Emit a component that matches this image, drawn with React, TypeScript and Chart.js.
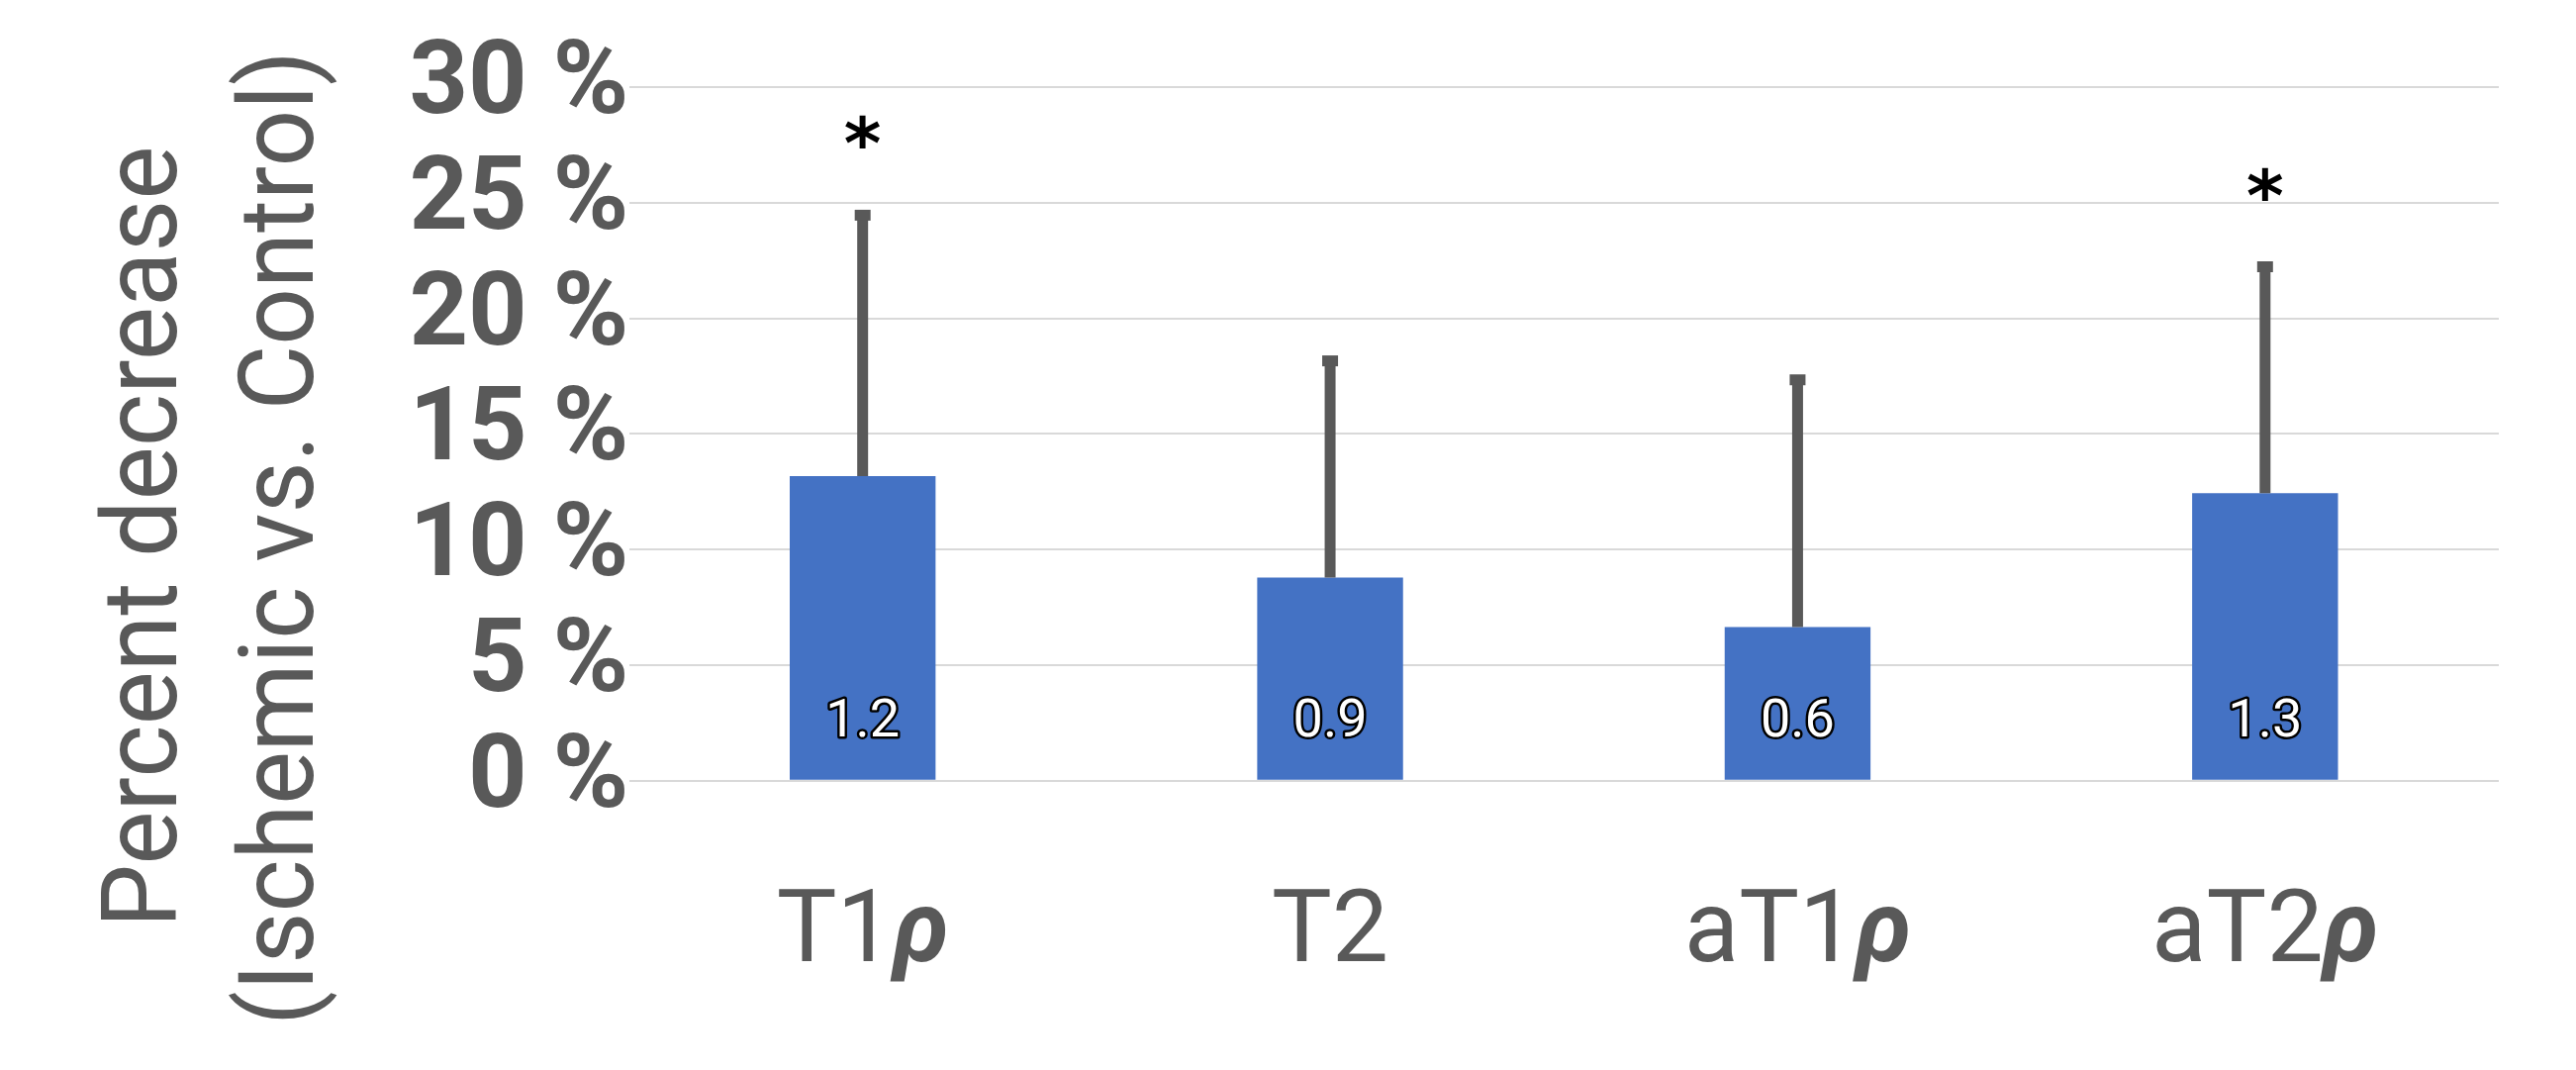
import React, { useEffect, useRef } from 'react';
import { Chart, registerables } from 'chart.js';

Chart.register(...registerables);

// ---- data ----
const categories = ['T1ρ', 'T2', 'aT1ρ', 'aT2ρ'];
const meanDecrease = [13.18, 8.79, 6.65, 12.44];
const sdDecrease = [11.28, 9.37, 10.69, 9.79];
const barLabels = ['1.2', '0.9', '0.6', '1.3'];
const significant = [true, false, false, true];
const yTitleLines = ['Percent decrease', '(Ischemic vs. Control)'];
const yMin = 0;
const yMax = 30;
const yStep = 5;

const GREY = '#595959';
const FONT = 'Roboto, "Open Sans", "DejaVu Sans", sans-serif';

const overlayPlugin = {
  id: 'overlay',
  afterDatasetsDraw(chart: any) {
    const ctx = chart.ctx;
    const y = chart.scales.y;
    const x = chart.scales.x;
    const meta = chart.getDatasetMeta(0);
    ctx.save();
    meta.data.forEach((bar: any, i: number) => {
      const cx = bar.x;
      const top = bar.y;
      const base = bar.base;
      const errPix = y.getPixelForValue(meanDecrease[i] + sdDecrease[i]);
      // error bar
      ctx.strokeStyle = GREY;
      ctx.lineWidth = 11;
      ctx.lineCap = 'butt';
      ctx.beginPath();
      ctx.moveTo(cx, top);
      ctx.lineTo(cx, errPix);
      ctx.stroke();
      ctx.beginPath();
      ctx.moveTo(cx - 8, errPix);
      ctx.lineTo(cx + 8, errPix);
      ctx.stroke();
      // asterisk
      if (significant[i]) {
        ctx.font = `bold 72px "DejaVu Sans", ${FONT}`;
        ctx.fillStyle = '#000000';
        ctx.textAlign = 'center';
        ctx.textBaseline = 'alphabetic';
        const m = ctx.measureText('*');
        const h = m.actualBoundingBoxAscent - m.actualBoundingBoxDescent;
        const cy = errPix - 64;
        ctx.fillText('*', cx, cy + h / 2 + m.actualBoundingBoxDescent);
      }
      // value label inside bar
      ctx.font = `54px ${FONT}`;
      ctx.textAlign = 'center';
      ctx.textBaseline = 'alphabetic';
      ctx.lineJoin = 'round';
      ctx.lineWidth = 5;
      ctx.strokeStyle = '#000000';
      ctx.strokeText(barLabels[i], cx, base - 44);
      ctx.fillStyle = '#ffffff';
      ctx.fillText(barLabels[i], cx, base - 44);
    });

    // category labels (ρ in bold italic)
    ctx.fillStyle = GREY;
    ctx.textAlign = 'left';
    ctx.textBaseline = 'alphabetic';
    categories.forEach((label: string, i: number) => {
      const cx = x.getPixelForValue(i);
      const parts = label.split('ρ');
      const plain = parts[0];
      const hasRho = label.includes('ρ');
      const fPlain = `102px ${FONT}`;
      const fRho = `italic bold 102px ${FONT}`;
      ctx.font = fPlain;
      const w1 = ctx.measureText(plain).width;
      ctx.font = fRho;
      const w2 = hasRho ? ctx.measureText('ρ').width : 0;
      const start = cx - (w1 + w2) / 2;
      const baseY = x.top + 182;
      ctx.font = fPlain;
      ctx.fillText(plain, start, baseY);
      if (hasRho) {
        ctx.font = fRho;
        ctx.fillText('ρ', start + w1, baseY);
      }
    });

    // y-axis title (two rotated lines)
    ctx.font = `105px ${FONT}`;
    ctx.fillStyle = GREY;
    ctx.textAlign = 'center';
    ctx.textBaseline = 'alphabetic';
    const titlePos = [
      { bx: 177.7, cy: 542.5, w: 790 },
      { bx: 316, cy: 543.5, w: 985 },
    ];
    yTitleLines.forEach((line: string, i: number) => {
      ctx.save();
      ctx.translate(titlePos[i].bx, titlePos[i].cy);
      ctx.rotate(-Math.PI / 2);
      ctx.fillText(line, 0, 0, titlePos[i].w);
      ctx.restore();
    });
    ctx.restore();
  },
};

export default function App() {
  const ref = useRef<HTMLCanvasElement | null>(null);

  useEffect(() => {
    document.body.style.margin = '0';
    document.body.style.overflow = 'hidden';
    const canvas = ref.current;
    if (!canvas) return;
    const chart = new Chart(canvas, {
      type: 'bar',
      data: {
        labels: categories,
        datasets: [
          {
            data: meanDecrease,
            backgroundColor: '#4472C4',
            borderWidth: 0,
            barPercentage: 1,
            categoryPercentage: 0.312,
          },
        ],
      },
      options: {
        responsive: false,
        animation: false,
        devicePixelRatio: 1,
        layout: { padding: { left: 0, right: 78, top: 88, bottom: 0 } },
        plugins: {
          legend: { display: false },
          tooltip: { enabled: false },
          title: { display: false },
        },
        scales: {
          x: {
            grid: { display: false },
            border: { display: false },
            ticks: { display: false },
            afterFit: (scale: any) => {
              scale.height = 292.2;
            },
          },
          y: {
            min: yMin,
            max: yMax,
            grid: { color: '#d9d9d9', lineWidth: 2, drawTicks: false },
            border: { display: false },
            ticks: {
              stepSize: yStep,
              autoSkip: false,
              padding: 0,
              color: GREY,
              font: { family: FONT, size: 104, weight: 'bold' },
              callback: (v: any) => `${v} %`,
            },
            afterFit: (scale: any) => {
              scale.width = 635.5;
            },
          },
        },
      },
      plugins: [overlayPlugin],
    });
    return () => chart.destroy();
  }, []);

  return (
    <div style={{ width: 2603, height: 1081 }}>
      <canvas ref={ref} width={2603} height={1081} style={{ display: 'block' }} />
    </div>
  );
}
